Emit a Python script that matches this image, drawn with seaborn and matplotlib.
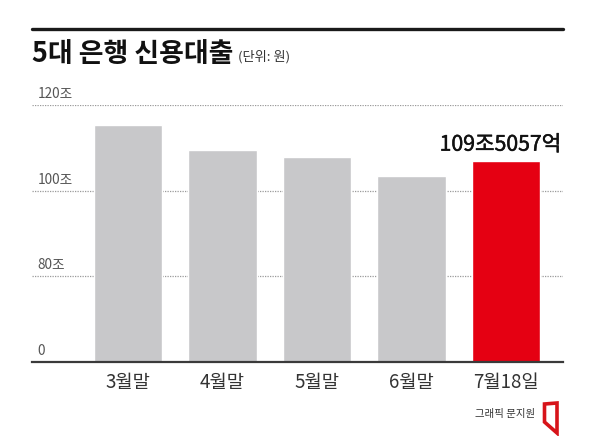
import matplotlib
matplotlib.use("Agg")
import matplotlib.pyplot as plt
import matplotlib.transforms as mtransforms
import matplotlib.patheffects as pe
from matplotlib.patches import Polygon
import seaborn as sns
import pandas as pd

# ---- data ----
categories = ["3월말", "4월말", "5월말", "6월말", "7월 18일"]
cat_labels = ["3월말", "4월말", "5월말", "6월말", "7월18일"]
values = [115.3, 109.4, 107.8, 103.5, 107.0]   # broken-axis display scale (조)
highlight_label = "109조5057억"
tick_values = [60, 80, 100, 120]
tick_labels = ["0", "80조", "100조", "120조"]
title = "5대 은행 신용대출"
unit = "(단위: 원)"
credit = "그래픽 문지원"

GRAY = "#c8c8ca"
RED = "#e50012"
colors = [GRAY, GRAY, GRAY, GRAY, RED]

sns.set_style("white")
plt.rcParams["font.family"] = ["Noto Sans CJK KR", "DejaVu Sans"]

W, H = 596, 436
fig = plt.figure(figsize=(W / 100, H / 100), dpi=100)
fig.patch.set_facecolor("white")

def fx(px):
    return px / W

def fy(py):
    return 1 - py / H

ax = fig.add_axes([fx(32), fy(362), fx(563) - fx(32), fy(105) - fy(362)])

df = pd.DataFrame({"cat": categories, "val": values})
sns.barplot(data=df, x="cat", y="val", hue="cat", palette=colors,
            legend=False, width=0.72, ax=ax, zorder=3, saturation=1)

ax.set_xlim(-1.016, 4.603)
ax.set_ylim(60, 120)

# gridlines (dotted)
for v in tick_values[1:]:
    ax.axhline(v, color="#9a9a9a", lw=0.9, ls=(0, (1, 1)), zorder=1)

for s in ["top", "right", "left"]:
    ax.spines[s].set_visible(False)
ax.spines["bottom"].set_color("#3a3a3a")
ax.spines["bottom"].set_linewidth(1.6)
ax.spines["bottom"].set_zorder(4)

ax.set_yticks([])
ax.set_xlabel("")
ax.set_ylabel("")
ax.set_xticks(range(len(cat_labels)))
ax.set_xticklabels(cat_labels, fontsize=13.5, color="#333333")
ax.tick_params(axis="x", length=0, pad=7)

# y labels inside, above gridlines
trans = mtransforms.blended_transform_factory(ax.transAxes, ax.transData)
off = mtransforms.offset_copy(trans, fig=fig, x=0, y=4, units="dots")
for v, lab in zip(tick_values, tick_labels):
    ax.text(0.011, v, lab, transform=off, ha="left", va="bottom",
            fontsize=9.8, color="#555555")

# highlight value label
ax.text(3.94, values[4], highlight_label, transform=mtransforms.offset_copy(
    ax.transData, fig=fig, x=0, y=5, units="dots"),
    ha="center", va="bottom", fontsize=15.3, color="#111111",
    path_effects=[pe.withStroke(linewidth=0.35, foreground="#111111")])

# top rule
fig.add_artist(plt.Line2D([fx(32), fx(563)], [fy(29.5), fy(29.5)],
                          color="#1a1a1a", lw=2.4))

# title
fig.text(fx(32), fy(54), title, fontsize=19.4, fontweight="bold",
         color="#111111", ha="left", va="center")
fig.text(fx(238), fy(57), unit, fontsize=9.5, color="#333333",
         ha="left", va="center")

# credit
fig.text(fx(535), fy(414), credit, fontsize=7.5, color="#333333",
         ha="right", va="center")
logo = Polygon([[fx(544.5), fy(404)], [fx(557), fy(403)],
                [fx(557), fy(433)], [fx(544.5), fy(422)]],
               closed=True, fill=False, edgecolor="#d7141a", lw=2.6,
               transform=fig.transFigure, joinstyle="miter")
fig.add_artist(logo)

fig.savefig("out.png", dpi=100)
